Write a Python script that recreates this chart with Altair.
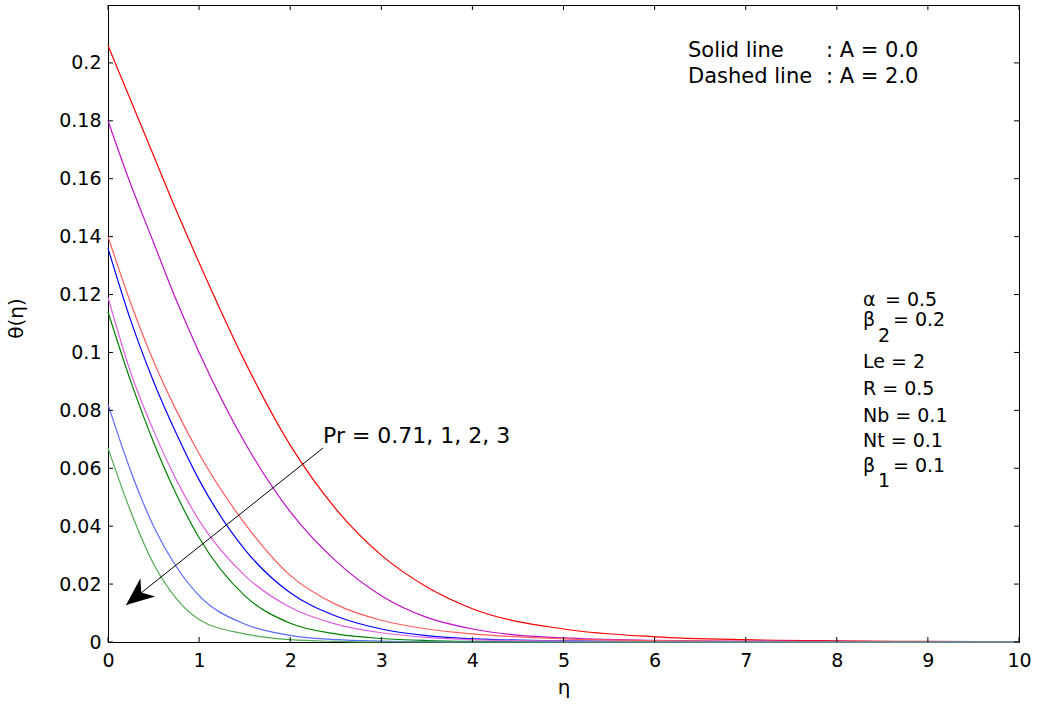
import altair as alt
import pandas as pd

# Similarity variable grid (eta) on which the temperature profiles are tabulated
ETA = [0, 0.25, 0.5, 0.75, 1, 1.5, 2, 2.5, 3, 3.5, 4, 5, 6, 7, 8, 9, 10]

# theta(eta) for A = 0.0 (solid), Pr = 0.71, 1, 2, 3
THETA_A0_PR071 = [0.206, 0.187, 0.168, 0.149, 0.131, 0.097, 0.068, 0.046, 0.030, 0.019, 0.0115, 0.0045, 0.0018, 0.0008, 0.0004, 0.0002, 0.0001]
THETA_A0_PR1 = [0.180, 0.158, 0.138, 0.118, 0.100, 0.069, 0.045, 0.028, 0.016, 0.0085, 0.0045, 0.0014, 0.0006, 0.0003, 0.0002, 0.0001, 0.0]
THETA_A0_PR2 = [0.136, 0.111, 0.090, 0.072, 0.056, 0.032, 0.017, 0.009, 0.0045, 0.0022, 0.0011, 0.0004, 0.0002, 0.0001, 0.0, 0.0, 0.0]
THETA_A0_PR3 = [0.114, 0.090, 0.069, 0.051, 0.036, 0.016, 0.0065, 0.0028, 0.0012, 0.0005, 0.0002, 0.0, 0.0, 0.0, 0.0, 0.0, 0.0]

# theta(eta) for A = 2.0 (dashed), Pr = 0.71, 1, 2, 3
THETA_A2_PR071 = [0.140, 0.117, 0.097, 0.080, 0.065, 0.041, 0.023, 0.013, 0.0075, 0.0045, 0.0028, 0.0011, 0.0005, 0.0002, 0.0001, 0.0, 0.0]
THETA_A2_PR1 = [0.119, 0.093, 0.073, 0.056, 0.042, 0.023, 0.012, 0.0062, 0.0032, 0.0016, 0.0008, 0.0003, 0.0001, 0.0, 0.0, 0.0, 0.0]
THETA_A2_PR2 = [0.082, 0.059, 0.040, 0.026, 0.016, 0.0062, 0.0023, 0.0008, 0.0003, 0.0001, 0.0, 0.0, 0.0, 0.0, 0.0, 0.0, 0.0]
THETA_A2_PR3 = [0.067, 0.045, 0.027, 0.015, 0.0078, 0.0028, 0.0008, 0.0002, 0.0, 0.0, 0.0, 0.0, 0.0, 0.0, 0.0, 0.0, 0.0]

SERIES_NAMES = ["A0 Pr0.71", "A0 Pr1", "A0 Pr2", "A0 Pr3",
                "A2 Pr0.71", "A2 Pr1", "A2 Pr2", "A2 Pr3"]
SERIES_VALUES = [THETA_A0_PR071, THETA_A0_PR1, THETA_A0_PR2, THETA_A0_PR3,
                 THETA_A2_PR071, THETA_A2_PR1, THETA_A2_PR2, THETA_A2_PR3]
SERIES_COLORS = ["#FF0000", "#C010C8", "#0000FF", "#008000",
                 "#FF5C5C", "#E060E0", "#5A6AFF", "#52AA52"]

X_TICKS = [0, 1, 2, 3, 4, 5, 6, 7, 8, 9, 10]
Y_TICKS = [0, 0.02, 0.04, 0.06, 0.08, 0.1, 0.12, 0.14, 0.16, 0.18, 0.2]

# Arrow across the family of curves (direction of increasing Pr)
ARROW_ETA = [2.36, 0.198]
ARROW_THETA = [0.067, 0.0128]

W, H = 911, 637
FONT = "DejaVu Sans"

rows = []
for name, values in zip(SERIES_NAMES, SERIES_VALUES):
    for e, t in zip(ETA, values):
        rows.append({"series": name, "eta": e, "theta": t})
profiles = pd.DataFrame(rows)

xs = alt.Scale(domain=[0, 10], nice=False, zero=False)
ys = alt.Scale(domain=[0, 0.22], nice=False)

# One axis definition per direction, shared by every layer so they merge cleanly
X_AXIS = alt.Axis(values=X_TICKS, format="d", labelPadding=9, labelFlush=False,
                  titleY=51, titleBaseline="alphabetic")
Y_AXIS = alt.Axis(values=Y_TICKS, format=".2~f", labelPadding=7, labelFlush=False,
                  titleX=-92, titleY=313, titleBaseline="middle")


def xenc(field):
    return alt.X(field, scale=xs, title="η", axis=X_AXIS)


def yenc(field):
    return alt.Y(field, scale=ys, title="θ(η)", axis=Y_AXIS)


lines = alt.Chart(profiles).mark_line(strokeWidth=1.2, interpolate="monotone").encode(
    x=xenc("eta:Q"),
    y=yenc("theta:Q"),
    color=alt.Color("series:N", scale=alt.Scale(domain=SERIES_NAMES, range=SERIES_COLORS), legend=None),
    order=alt.Order("eta:Q"),
)

xt = pd.DataFrame({"eta": X_TICKS})
yt = pd.DataFrame({"theta": Y_TICKS})
tick_bottom = alt.Chart(xt).mark_rule(color="black").encode(
    x=xenc("eta:Q"), y=alt.value(H), y2=alt.value(H - 5))
tick_top = alt.Chart(xt).mark_rule(color="black").encode(
    x=xenc("eta:Q"), y=alt.value(0), y2=alt.value(5))
tick_left = alt.Chart(yt).mark_rule(color="black").encode(
    y=yenc("theta:Q"), x=alt.value(0), x2=alt.value(5))
tick_right = alt.Chart(yt).mark_rule(color="black").encode(
    y=yenc("theta:Q"), x=alt.value(W), x2=alt.value(W - 5))

arrow_df = pd.DataFrame({"eta": ARROW_ETA, "theta": ARROW_THETA, "k": [0, 1]})
arrow_line = alt.Chart(arrow_df).mark_line(color="black", strokeWidth=1).encode(
    x=xenc("eta:Q"),
    y=yenc("theta:Q"),
    order="k:Q",
)
arrow_head = alt.Chart(arrow_df.iloc[[1]]).mark_point(
    shape="M0,0 L0.42,1 L0,0.7 L-0.42,1 Z", size=3136, angle=231,
    filled=True, color="black", opacity=1, strokeWidth=0,
).encode(
    x=xenc("eta:Q"),
    y=yenc("theta:Q"),
)


def label(text, x, y, size=19):
    return alt.Chart(pd.DataFrame({"t": [text]})).mark_text(
        text=text, font=FONT, fontSize=size, color="black",
        align="left", baseline="alphabetic",
    ).encode(x=alt.value(x), y=alt.value(y))


notes = [
    label("Solid line", 580, 52, 21),
    label(": A = 0.0", 718, 52, 21),
    label("Dashed line", 580, 78, 21),
    label(": A = 2.0", 718, 78, 21),
    label("Pr = 0.71, 1, 2, 3", 215, 438, 22),
    label("α", 755, 301),
    label("= 0.5", 777, 301),
    label("β", 755, 321),
    label("2", 770, 337),
    label("= 0.2", 785, 321),
    label("Le = 2", 755, 363),
    label("R = 0.5", 755, 390),
    label("Nb = 0.1", 755, 417),
    label("Nt = 0.1", 755, 442),
    label("β", 755, 467),
    label("1", 770, 482),
    label("= 0.1", 785, 467),
]

chart = alt.layer(
    lines, tick_bottom, tick_top, tick_left, tick_right, arrow_line, arrow_head, *notes
).properties(
    width=W, height=H,
    background="white",
    autosize=alt.AutoSizeParams(type="none"),
    padding={"left": 108, "top": 5, "right": 27, "bottom": 66},
).configure_view(
    stroke="black", strokeWidth=1,
).configure_axis(
    grid=False, ticks=False, tickSize=0,
    domainColor="black", domainWidth=1,
    labelFont=FONT, labelFontSize=19, labelColor="black",
    titleFont=FONT, titleFontSize=20, titleColor="black", titleFontWeight="normal",
)

chart.save("out.html", embed_options={"renderer": "svg", "actions": False})
